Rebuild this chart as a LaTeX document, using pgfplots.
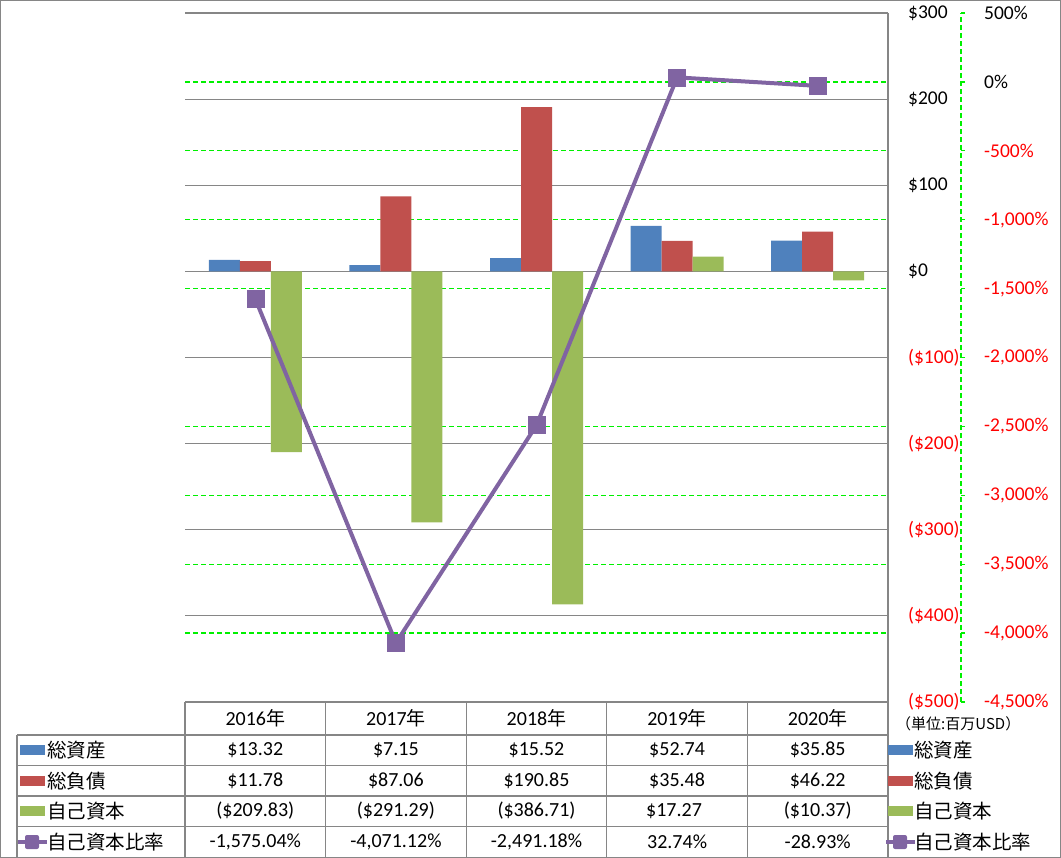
\documentclass[border=0pt]{standalone}
\usepackage{pgfplots}
\pgfplotsset{compat=1.18}
\usepackage{fontspec}
\setmainfont{Carlito}
\newfontfamily\jp{Noto Sans CJK JP}
\definecolor{cA}{RGB}{79,129,189}
\definecolor{cL}{RGB}{192,80,77}
\definecolor{cE}{RGB}{155,187,89}
\definecolor{cR}{RGB}{128,100,162}
\definecolor{gridgray}{RGB}{134,134,134}
\definecolor{glime}{RGB}{0,240,0}
\definecolor{negred}{RGB}{255,0,0}

\begin{document}
\fontsize{19.5}{22}\selectfont
\begin{tikzpicture}
\useasboundingbox (0pt,0pt) rectangle (1061pt,-858pt);
\draw[gridgray, line width=1.2pt] (0.6pt,-0.6pt) rectangle (1060.4pt,-857.4pt);

% percent axis: green dashed grid, axis line and labels
\begin{axis}[
  at={(185pt,-702pt)}, anchor=south west,
  scale only axis, width=703pt, height=689pt,
  xmin=-0.5, xmax=4.5, ymin=-4500, ymax=500,
  axis x line=none, axis y line*=right,
  y axis line style={draw=glime, dash pattern=on 5pt off 3pt, line width=1.3pt, xshift=73pt, -},
  xtick=\empty,
  ytick={-4500,-4000,...,500},
  yticklabels={
    \textcolor{negred}{-4,500\%},\textcolor{negred}{-4,000\%},
    \textcolor{negred}{-3,500\%},\textcolor{negred}{-3,000\%},
    \textcolor{negred}{-2,500\%},\textcolor{negred}{-2,000\%},
    \textcolor{negred}{-1,500\%},\textcolor{negred}{-1,000\%},
    \textcolor{negred}{-500\%},0\%,500\%},
  yticklabel style={anchor=west, inner sep=0pt, xshift=92pt},
  tick align=outside, major tick length=4pt,
  ytick style={draw=glime, solid, line width=1.3pt, xshift=73pt},
  ymajorgrids, grid style={draw=glime, dash pattern=on 5pt off 3pt, line width=1.3pt},
]
\end{axis}

% amount axis with bars
\begin{axis}[
  at={(185pt,-702pt)}, anchor=south west,
  scale only axis, width=703pt, height=689pt,
  xmin=-0.5, xmax=4.5, ymin=-500, ymax=300,
  axis x line=none, axis y line*=right,
  y axis line style={gridgray, line width=1.2pt, -},
  xtick=\empty,
  ytick={-500,-400,...,300},
  yticklabels={
    \textcolor{negred}{(\$500)},\textcolor{negred}{(\$400)},
    \textcolor{negred}{(\$300)},\textcolor{negred}{(\$200)},
    \textcolor{negred}{(\$100)},\$0,\$100,\$200,\$300},
  yticklabel style={anchor=west, inner sep=0pt, xshift=20pt},
  major tick length=0pt,
  ymajorgrids, grid style={gridgray, line width=1.2pt},
  ybar=0pt, bar width=31pt,
]
\addplot[fill=cA, draw=none] coordinates {(0,13.32) (1,7.15) (2,15.52) (3,52.74) (4,35.85)};
\addplot[fill=cL, draw=none] coordinates {(0,11.78) (1,87.06) (2,190.85) (3,35.48) (4,46.22)};
\addplot[fill=cE, draw=none] coordinates {(0,-209.83) (1,-291.29) (2,-386.71) (3,17.27) (4,-10.37)};
\end{axis}

% equity ratio line
\begin{axis}[
  at={(185pt,-702pt)}, anchor=south west,
  scale only axis, width=703pt, height=689pt,
  xmin=-0.5, xmax=4.5, ymin=-4500, ymax=500,
  hide axis, clip=false,
]
\addplot[cR, line width=4pt, mark=square*, mark size=8.5pt,
  mark options={fill=cR, rounded corners=2.5pt, line width=0.5pt}]
  coordinates {(0,-1575.04) (1,-4071.12) (2,-2491.18) (3,32.74) (4,-28.93)};
\end{axis}

\begin{scope}[x=1pt, y=1pt]
% data table
\begin{scope}[gridgray, line width=1.2pt]
\draw (185,-702) -- (888,-702);
\draw (17,-735) -- (888,-735);
\foreach \y in {765.5,796,826.5} \draw (17,-\y) -- (888,-\y);
\draw (17,-735) -- (17,-857);
\foreach \x in {185,325.6,466.2,606.8,747.4} \draw (\x,-702) -- (\x,-857);
\draw (888,-13) -- (888,-857);
\end{scope}

\begin{scope}[every node/.style={font=\fontsize{20}{22}\selectfont}]
\foreach \x/\t in {255.3/{2016},395.9/{2017},536.5/{2018},677.1/{2019},817.7/{2020}}
  \node at (\x,-718.5) {\t{\jp\fontsize{19}{22}\selectfont 年}};
\foreach \x/\t in {255.3/{\$13.32},395.9/{\$7.15},536.5/{\$15.52},677.1/{\$52.74},817.7/{\$35.85}}
  \node at (\x,-750) {\t};
\foreach \x/\t in {255.3/{\$11.78},395.9/{\$87.06},536.5/{\$190.85},677.1/{\$35.48},817.7/{\$46.22}}
  \node at (\x,-781) {\t};
\foreach \x/\t in {255.3/{(\$209.83)},395.9/{(\$291.29)},536.5/{(\$386.71)},677.1/{\$17.27\hphantom{)}},817.7/{(\$10.37)}}
  \node at (\x,-811) {\t};
\foreach \x/\t in {255.3/{-1,575.04\%},395.9/{-4,071.12\%},536.5/{-2,491.18\%},677.1/{32.74\%},817.7/{-28.93\%}}
  \node at (\x,-842) {\t};
\end{scope}

% legend keys in the table and at the right
\foreach \x in {20,888} {
  \fill[cA] (\x,-745) rectangle ++(25,-10);
  \fill[cL] (\x,-776) rectangle ++(25,-10);
  \fill[cE] (\x,-806) rectangle ++(25,-10);
  \draw[cR, line width=3.5pt] (\x-2,-842) -- ++(29,0);
  \fill[cR, rounded corners=2pt] (\x+5,-835) rectangle ++(14,-14);
}
\foreach \x in {47,914} {
  \node[anchor=west, inner sep=0pt] at (\x,-750) {\jp 総資産};
  \node[anchor=west, inner sep=0pt] at (\x,-781) {\jp 総負債};
  \node[anchor=west, inner sep=0pt] at (\x,-811) {\jp 自己資本};
  \node[anchor=west, inner sep=0pt] at (\x,-842) {\jp 自己資本比率};
}
\node[anchor=west, inner sep=0pt] at (896,-724) {\fontsize{15}{17}\selectfont\jp （単位:百万USD）};
\end{scope}
\end{tikzpicture}
\end{document}
